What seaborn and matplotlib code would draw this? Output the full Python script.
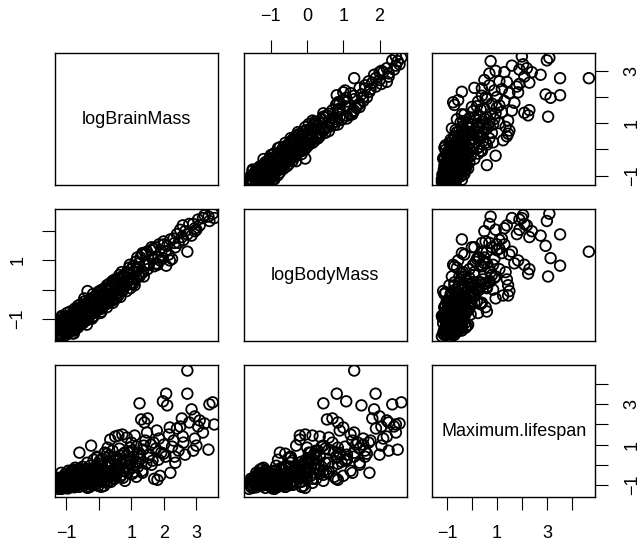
import matplotlib
matplotlib.use("Agg")
import matplotlib.pyplot as plt
import seaborn as sns
import pandas as pd

# values (one entry per animal)
log_brain_mass = [
    -1.30, -1.28, -1.25, -1.22, -1.20, -1.18, -1.15, -1.12, -1.10, -1.08,
    -1.05, -1.02, -1.00, -0.98, -0.95, -0.93, -0.90, -0.88, -0.86, -0.84,
    -0.82, -0.80, -0.78, -0.76, -0.74, -0.72, -0.70, -0.68, -0.66, -0.64,
    -0.62, -0.60, -0.58, -0.56, -0.54, -0.52, -0.50, -1.26, -1.16, -1.06,
    -0.96, -0.92, -0.87, -0.79, -0.73, -0.67, -0.57, -1.14, -1.03, -0.81,
    -0.48, -0.46, -0.44, -0.42, -0.40, -0.38, -0.36, -0.34, -0.32, -0.30,
    -0.28, -0.26, -0.24, -0.22, -0.20, -0.18, -0.16, -0.14, -0.12, -0.10,
    -0.08, -0.06, -0.04, -0.02, 0.00, 0.02, 0.05, 0.08, 0.10, 0.12,
    0.15, 0.18, 0.20, 0.22, 0.25, 0.28, 0.30, 0.32, 0.35, 0.38,
    0.40, 0.42, 0.45, 0.48, 0.50, -0.35, -0.15, 0.05, 0.25, 0.45,
    0.52, 0.55, 0.58, 0.60, 0.63, 0.66, 0.70, 0.72, 0.75, 0.78,
    0.80, 0.83, 0.86, 0.90, 0.93, 0.96, 1.00, 1.03, 1.06, 1.10,
    1.13, 1.16, 1.20, 1.23, 1.25, 1.28, 1.30, 1.33, 1.36, 1.40,
    1.43, 1.46, 1.50, 0.65, 0.85, 1.05, 1.18, 1.38, 0.95, 1.48,
    1.55, 1.60, 1.65, 1.70, 1.75, 1.80, 1.85, 1.88, 1.92, 1.97,
    2.00, 2.05, 2.07, 2.10, 2.15, 2.20, 2.25, 2.30, 2.35, 2.40,
    2.45, 2.50, 1.62, 1.78, 2.55, 2.60, 2.65, 2.72, 2.72, 2.78,
    2.85, 2.90, 2.95, 3.00, 3.05, 3.10, 3.20, 3.25, 3.37, 3.40,
    3.50, 3.55, -1.24, -1.19, -1.09, -0.99, -0.89, -0.85, -0.75, -0.69,
    -0.63, -0.55, -0.49, -0.41, -0.33, -0.27, -0.19, -0.11, -0.03, 0.07,
    0.13, 0.21, 0.33, 0.41, 0.53, 0.62, 0.74, 0.88, 1.02, 1.15,
    -1.13, -0.94, -0.77, -0.59, -0.45, -0.29, -0.09, 0.11, 0.27, 0.57,
    -1.29, -1.21, -1.17, -1.11, -1.07, -1.01, -0.97, -0.91, -0.83, -0.77,
    -0.71, -0.65, -0.61, -0.53, -0.47, -0.43, -0.37, -0.31, -0.25, -0.21,
    -0.17, -0.13, -0.07, -0.01, 0.03, 0.09, 0.14, 0.19, 0.24, 0.31,
    0.36, 0.43, 0.49, 0.56, 0.64, 0.71, 0.79, 0.87, 0.97, 1.08,
    -1.23, -1.04, -0.86, -0.72, -0.58, -0.39, -0.23, -0.05, 0.16, 0.37,
    1.21, 1.34, 1.52, 1.68, 1.83, 1.99, 2.18, 2.33, 2.58, 2.95,
]

log_body_mass = [
    -1.55, -1.25, -1.60, -1.05, -1.50, -1.15, -0.95, -1.55, -1.45, -1.10,
    -0.95, -1.45, -1.30, -0.80, -1.50, -1.00, -1.40, -0.75, -1.30, -0.85,
    -1.40, -0.80, -1.30, -0.95, -0.65, -1.35, -0.70, -1.25, -0.85, -0.55,
    -1.25, -0.75, -1.10, -0.50, -0.95, -1.15, -0.60, -1.35, -1.40, -1.20,
    -0.95, -1.45, -1.10, -1.00, -1.20, -0.70, -1.05, -0.90, -1.35, -1.50,
    -0.55, -1.10, -0.40, -0.95, -0.75, -1.05, -0.45, -0.70, -0.95, -0.35,
    -0.60, -0.85, -0.30, -1.00, -0.60, -0.15, -0.80, -0.25, -0.70, -0.45,
    -0.65, -0.45, -0.10, -0.55, -0.65, -0.05, -0.35, -0.75, 0.00, -0.30,
    -0.55, 0.05, -0.25, -0.50, 0.15, -0.15, -0.45, 0.20, -0.20, 0.10,
    -0.20, 0.30, -0.35, 0.00, 0.35, -0.05, -0.90, -0.80, -0.60, 0.25,
    0.00, 0.25, 0.10, -0.20, 0.50, -0.25, 0.60, -0.05, 0.45, 0.20,
    0.45, 0.15, 0.60, 0.30, 0.75, 0.20, 0.70, 0.35, 0.80, 0.15,
    0.95, 0.40, 0.70, 0.90, 0.45, 1.10, 0.55, 1.20, 0.60, 0.85,
    1.25, 0.85, 0.70, 0.35, -0.05, 0.20, 1.10, 0.45, 0.85, 1.30,
    0.90, 1.35, 1.05, 0.80, 1.45, 0.85, 1.55, 1.00, 1.30, 1.08,
    1.55, 1.30, 0.82, 1.50, 1.20, 1.72, 1.05, 1.75, 1.45, 1.90,
    1.60, 2.05, 1.45, 0.90, 1.80, 1.70, 2.00, 1.30, 1.89, 2.25,
    1.85, 2.25, 2.10, 2.05, 2.40, 2.20, 2.45, 2.55, 2.50, 2.35,
    2.60, 2.45, -1.30, -1.55, -1.00, -1.15, -1.40, -0.95, -1.20, -0.75,
    -1.05, -0.60, -1.15, -0.50, -0.80, -0.40, -0.95, -0.30, -0.70, -0.15,
    -0.40, 0.05, -0.35, 0.25, -0.30, 0.35, 0.00, 0.55, 0.25, 0.75,
    -1.35, -0.90, -1.50, -0.85, -0.30, -0.75, -0.20, -0.60, 0.00, -0.10,
    -1.40, -1.20, -1.50, -1.35, -1.05, -1.55, -1.25, -0.90, -1.15, -1.40,
    -0.95, -1.30, -0.80, -1.10, -0.65, -0.90, -1.20, -0.55, -0.85, -0.40,
    -0.70, -0.30, -0.55, -0.10, -0.40, -0.65, -0.20, 0.00, -0.45, -0.25,
    0.00, -0.45, 0.15, -0.15, 0.05, 0.45, 0.10, 0.40, 0.05, 0.60,
    -1.10, -0.95, -1.20, -0.75, -0.65, -0.60, -0.35, -0.50, -0.10, -0.40,
    0.50, 1.25, 0.85, 1.40, 1.10, 1.65, 1.00, 1.60, 2.20, 2.00,
]

max_lifespan = [
    -1.10, -0.95, -1.20, -1.05, -0.80, -1.15, -0.90, -0.70, -1.00, -0.85,
    -1.10, -0.60, -0.95, -0.75, -1.05, -0.50, -0.88, -1.00, -0.65, -0.30,
    -0.95, -0.80, -0.25, -1.12, -0.70, -0.55, -0.90, -0.40, -1.00, -0.75,
    -0.20, 0.60, -0.85, -0.60, -1.05, -0.45, -0.10, -0.65, -0.40, -0.95,
    -1.18, -0.70, -0.55, -1.08, -0.15, -0.95, -0.35, -1.20, -0.45, -0.90,
    -0.80, -0.40, -1.00, -0.55, -0.20, -0.75, 0.10, -0.95, -0.60, -0.30,
    -1.10, -0.05, 0.95, -0.65, -0.45, -0.85, 0.25, -0.70, -0.15, -0.95,
    -0.50, 0.40, -0.30, -1.05, -0.60, 0.05, -0.40, -0.80, 0.30, -0.20,
    -0.65, 0.60, -0.45, -0.10, -0.90, 0.15, -0.35, 0.45, 1.25, -0.55,
    -0.05, 0.70, -0.25, 0.20, 1.40, -1.15, -1.00, -0.75, 0.55, -0.70,
    -0.40, 0.35, -0.15, 1.45, 0.80, -0.60, 0.10, 1.50, -0.30, 0.55,
    -0.80, 0.25, 1.35, -0.20, 0.65, 0.00, 1.10, -0.45, 0.40, 1.45,
    0.15, 0.90, -0.10, 0.60, 3.05, 0.30, 2.25, -0.30, 0.75, 2.10,
    1.20, 0.05, 2.30, 0.45, 0.20, -0.15, 0.50, 0.95, 0.85, 1.60,
    0.50, 1.00, 0.20, -0.70, 0.80, -0.75, 1.30, -0.55, 0.60, 3.15,
    1.00, 0.40, 3.53, 2.95, 1.50, -0.40, 0.90, 1.20, 0.10, 1.80,
    0.70, 1.90, 0.00, 1.70, 2.30, 1.10, 0.50, 4.68, 3.53, 2.10,
    2.75, 0.70, 1.30, 0.95, 1.90, 2.20, 1.60, 2.05, 0.75, 3.00,
    3.10, 2.00, -0.78, -1.00, -0.62, -0.82, -1.12, -0.48, -0.68, -0.98,
    -0.52, -0.92, -0.28, -0.68, -0.88, -0.35, -0.78, -0.58, -0.25, -1.10,
    -0.55, -0.30, -0.78, 0.05, -0.55, -0.25, -0.65, -0.40, 0.70, -0.60,
    -0.80, -0.30, -0.82, -0.72, -0.50, -0.70, -0.40, -0.70, 0.85, 0.00,
    -1.00, -0.90, -1.15, -0.60, -0.95, -0.80, -1.05, -0.70, -1.00, -0.55,
    -0.85, -0.45, -1.10, -0.75, -0.95, -0.30, -0.65, -0.90, -0.50, -1.00,
    -0.75, -0.35, -0.95, -0.55, 0.20, -0.65, -0.85, -0.30, -0.10, -0.60,
    -0.45, 0.35, -0.70, -0.05, 0.25, -0.50, 0.60, -0.10, 0.20, -0.35,
    -0.70, -1.15, -0.40, -1.05, -0.25, -1.10, -0.20, 0.35, -1.05, -0.85,
    0.10, -0.40, 0.35, 1.10, 0.25, 0.55, 1.85, 0.40, 1.40, 2.40,
]

var_names = ["logBrainMass", "logBodyMass", "Maximum.lifespan"]
var_limits = [(-1.35, 3.67), (-1.75, 2.75), (-1.59, 4.94)]
var_ticks = [[-1, 0, 1, 2, 3], [-1, 0, 1, 2], [-1, 0, 1, 2, 3, 4]]
var_ticklabels = [["\u22121", "", "1", "2", "3"],
                  ["\u22121", "0", "1", "2"],
                  ["\u22121", "", "1", "", "3", ""]]
# y axis labels skip more because they are rotated
var_yticklabels = [["\u22121", "", "1", "", "3"],
                   ["\u22121", "", "1", ""],
                   ["\u22121", "", "1", "", "3", ""]]

df = pd.DataFrame({
    "logBrainMass": log_brain_mass,
    "logBodyMass": log_body_mass,
    "Maximum.lifespan": max_lifespan,
})

sns.set_style("white")
plt.rcParams["font.family"] = ["Liberation Sans", "DejaVu Sans"]
plt.rcParams["font.size"] = 13

g = sns.PairGrid(df, vars=var_names, height=2, aspect=1.2, despine=False)
g.map_offdiag(sns.scatterplot, marker="o", facecolor="none", edgecolor="black",
              s=58, linewidth=1.3)

g.figure.set_size_inches(6.42, 5.44)
g.figure.subplots_adjust(left=0.0857, right=0.9273, top=0.902, bottom=0.0869,
                         wspace=0.1555, hspace=0.187)

for i in range(3):
    for j in range(3):
        ax = g.axes[i, j]
        ax.set_xlabel("")
        ax.set_ylabel("")
        for sp in ax.spines.values():
            sp.set_color("black")
            sp.set_linewidth(1.0)
            sp.set_visible(True)
        ax.tick_params(which="both", bottom=False, top=False, left=False, right=False,
                       labelbottom=False, labeltop=False, labelleft=False, labelright=False,
                       length=9.5, width=0.8, pad=11, labelsize=13, colors="black")

# limits and ticks per variable (shared along columns / rows)
for k in range(3):
    g.axes[2, k].set_xlim(var_limits[k])
    g.axes[2, k].set_xticks(var_ticks[k])
    g.axes[2, k].set_xticklabels(var_ticklabels[k])
    g.axes[k, 2].set_ylim(var_limits[k])
    g.axes[k, 0].set_yticks(var_ticks[k])
    g.axes[k, 0].set_yticklabels(var_yticklabels[k])

# col 1 and 3: bottom axes, col 2: top axis
g.axes[2, 0].tick_params(axis="x", bottom=True, labelbottom=True)
g.axes[2, 2].tick_params(axis="x", bottom=True, labelbottom=True)
g.axes[0, 1].tick_params(axis="x", top=True, labeltop=True)
g.axes[0, 1].set_xticklabels(var_ticklabels[1])

# row 2 on the left, rows 1 and 3 on the right
g.axes[1, 0].tick_params(axis="y", left=True, labelleft=True, labelrotation=90)
g.axes[0, 2].tick_params(axis="y", right=True, labelright=True, labelrotation=90)
g.axes[2, 2].tick_params(axis="y", right=True, labelright=True, labelrotation=90)
for ax in [g.axes[1, 0], g.axes[0, 2], g.axes[2, 2]]:
    for lab in ax.get_yticklabels():
        lab.set_va("center")

for k, name in enumerate(var_names):
    g.axes[k, k].text(0.5, 0.5, name, transform=g.axes[k, k].transAxes,
                      ha="center", va="center", fontsize=13, color="black")

g.figure.savefig("out.png", dpi=100)
